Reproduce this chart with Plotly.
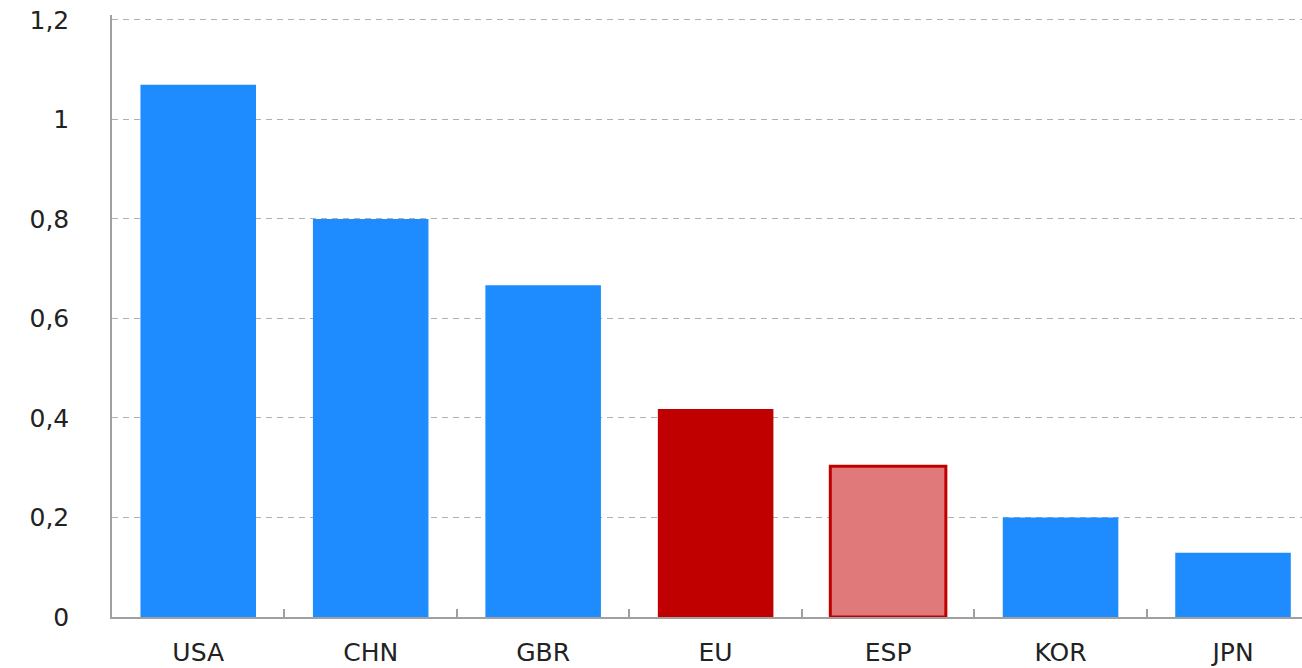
import plotly.graph_objects as go

categories = ["USA", "CHN", "GBR", "EU", "ESP", "KOR", "JPN"]
values = [1.07, 0.80, 0.667, 0.418, 0.303, 0.20, 0.129]
fill_colors = ["#1E8CFF", "#1E8CFF", "#1E8CFF", "#C00000", "#E07A7A", "#1E8CFF", "#1E8CFF"]
line_colors = ["#1E8CFF", "#1E8CFF", "#1E8CFF", "#C00000", "#C00000", "#1E8CFF", "#1E8CFF"]
line_widths = [0, 0, 0, 0, 3, 0, 0]
y_ticks = [0, 0.2, 0.4, 0.6, 0.8, 1.0, 1.2]
y_tick_labels = ["0", "0,2", "0,4", "0,6", "0,8", "1", "1,2"]

fig = go.Figure(go.Bar(
    x=categories, y=values,
    marker=dict(color=fill_colors, line=dict(color=line_colors, width=line_widths)),
    width=0.67,
))

fig.update_layout(
    width=1302, height=668,
    margin=dict(l=112, r=0, t=15, b=51, autoexpand=False),
    paper_bgcolor="white", plot_bgcolor="white",
    showlegend=False,
    font=dict(family="DejaVu Sans, Liberation Sans, sans-serif", size=25, color="#222222"),
)
fig.update_xaxes(
    range=[-0.5, 6.4], automargin=False,
    showline=True, linecolor="#A0A0A0", linewidth=1.5,
    ticks="inside", tickson="boundaries", ticklen=8, tickcolor="#A0A0A0", tickwidth=1.5,
    showgrid=False, ticklabelstandoff=12, ticklabeloverflow="allow",
)
fig.update_yaxes(
    range=[0, 1.21], automargin=False,
    tickvals=y_ticks, ticktext=y_tick_labels,
    showline=True, linecolor="#A0A0A0", linewidth=1.5,
    showgrid=True, gridcolor="#B0B0B0", gridwidth=1, griddash="6px,5px",
    zeroline=False, ticks="", ticklabelstandoff=36, ticklabeloverflow="allow",
)

fig.write_html("out.html", config={"displayModeBar": False},
               post_script="document.body.style.margin='0';")
